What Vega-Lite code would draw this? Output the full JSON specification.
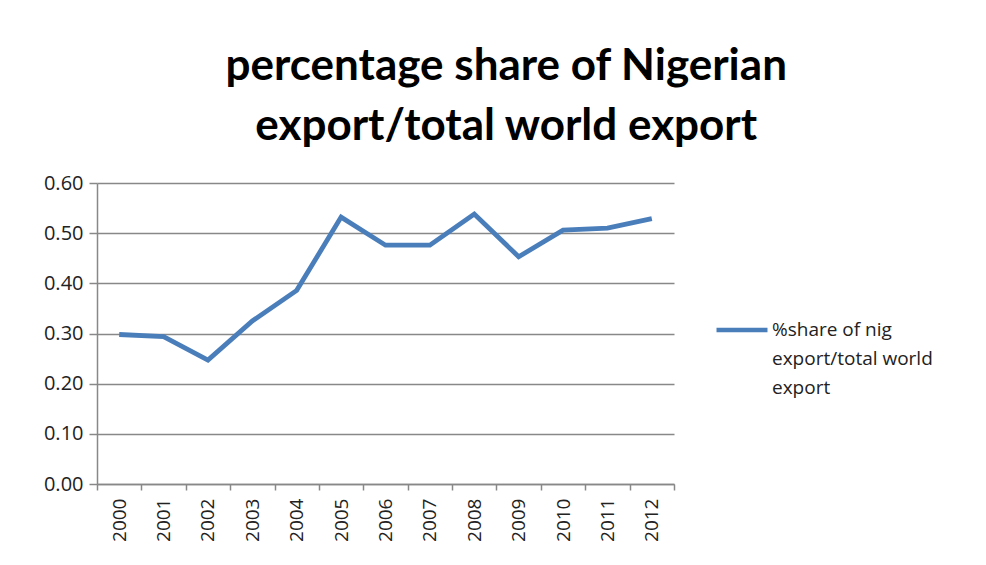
{
  "$schema": "https://vega.github.io/schema/vega-lite/v6.json",
  "width": 577,
  "height": 301,
  "padding": {"left": 43, "top": 45, "right": 10, "bottom": 5},
  "background": "white",
  "title": {
    "text": ["percentage share of Nigerian", "export/total world export"],
    "font": "Lato",
    "fontSize": 44,
    "fontWeight": "bold",
    "color": "#000000",
    "lineHeight": 60,
    "offset": 24,
    "anchor": "middle",
    "frame": "bounds",
    "dx": 18
  },
  "data": {
    "values": [
      {"year": "2000", "share": 0.298, "series": "s"},
      {"year": "2001", "share": 0.294, "series": "s"},
      {"year": "2002", "share": 0.247, "series": "s"},
      {"year": "2003", "share": 0.325, "series": "s"},
      {"year": "2004", "share": 0.386, "series": "s"},
      {"year": "2005", "share": 0.532, "series": "s"},
      {"year": "2006", "share": 0.476, "series": "s"},
      {"year": "2007", "share": 0.476, "series": "s"},
      {"year": "2008", "share": 0.538, "series": "s"},
      {"year": "2009", "share": 0.453, "series": "s"},
      {"year": "2010", "share": 0.506, "series": "s"},
      {"year": "2011", "share": 0.510, "series": "s"},
      {"year": "2012", "share": 0.529, "series": "s"}
    ]
  },
  "mark": {"type": "line", "strokeWidth": 4.8, "strokeJoin": "miter"},
  "encoding": {
    "x": {
      "field": "year",
      "type": "ordinal",
      "scale": {"type": "band", "paddingInner": 0, "paddingOuter": 0},
      "axis": {
        "title": null,
        "labelAngle": -90,
        "labelFont": "Open Sans",
        "labelFontSize": 19,
        "labelColor": "#222222",
        "labelPadding": 8,
        "tickBand": "extent",
        "tickSize": 6,
        "tickColor": "#888888",
        "tickWidth": 1.5,
        "domainColor": "#888888",
        "domainWidth": 1.5,
        "grid": false
      }
    },
    "y": {
      "field": "share",
      "type": "quantitative",
      "scale": {"domain": [0, 0.6], "nice": false},
      "axis": {
        "title": null,
        "values": [0, 0.1, 0.2, 0.3, 0.4, 0.5, 0.6],
        "format": ".2f",
        "labelFont": "Open Sans",
        "labelFontSize": 20,
        "labelColor": "#222222",
        "labelPadding": 6,
        "tickSize": 8,
        "tickColor": "#888888",
        "tickWidth": 1.5,
        "domainColor": "#888888",
        "domainWidth": 1.5,
        "grid": true,
        "gridColor": "#888888",
        "gridWidth": 1.5
      }
    },
    "color": {
      "field": "series",
      "type": "nominal",
      "scale": {"range": ["#4A7EBB"]},
      "legend": {
        "title": null,
        "orient": "none",
        "legendX": 617,
        "legendY": 119,
        "symbolType": "stroke",
        "symbolSize": 2600,
        "symbolStrokeWidth": 4.5,
        "labelFont": "Open Sans",
        "labelFontSize": 19,
        "labelColor": "#222222",
        "labelLimit": 400,
        "labelOffset": 2,
        "labelBaseline": "middle",
        "labelExpr": "['%share of nig', 'export/total world', 'export']"
      }
    }
  },
  "config": {
    "view": {"stroke": null},
    "style": {"guide-label": {"lineHeight": 29}}
  }
}
